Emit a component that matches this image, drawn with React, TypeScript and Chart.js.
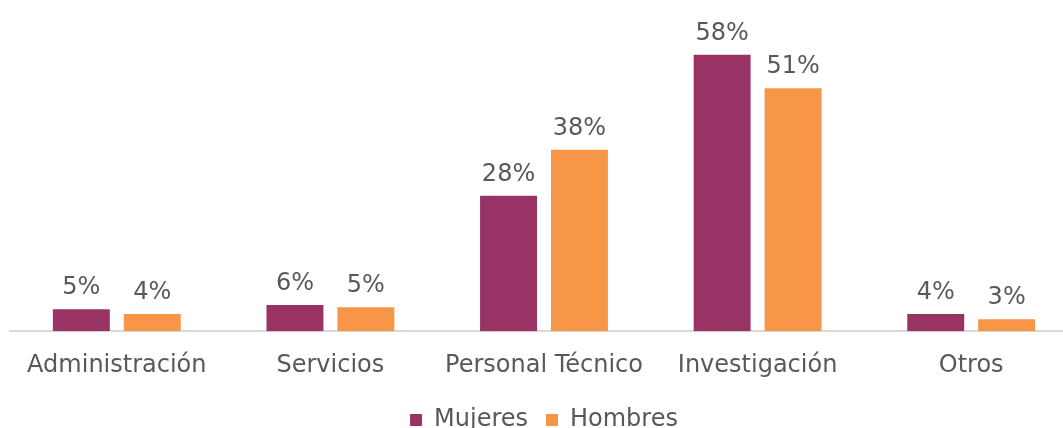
import React, { useEffect, useRef } from "react";
import { Chart, registerables } from "chart.js";

Chart.register(...registerables);

const categories = ["Administración", "Servicios", "Personal Técnico", "Investigación", "Otros"];
const mujeres = [4.6, 5.5, 28.4, 58.0, 3.6];
const hombres = [3.6, 5.0, 38.1, 51.0, 2.5];
const seriesNames = ["Mujeres", "Hombres"];

const PURPLE = "#993366";
const ORANGE = "#F79646";
const TEXT = "#595959";
const FONT = "'DejaVu Sans', Verdana, sans-serif";

const labelPlugin = {
  id: "barLabels",
  afterDatasetsDraw(chart: any) {
    const ctx = chart.ctx;
    ctx.save();
    ctx.fillStyle = TEXT;
    ctx.font = `24px ${FONT}`;
    ctx.textAlign = "center";
    ctx.textBaseline = "alphabetic";
    chart.data.datasets.forEach((ds: any, di: number) => {
      const meta = chart.getDatasetMeta(di);
      meta.data.forEach((bar: any, i: number) => {
        const v = ds.data[i] as number;
        ctx.fillText(`${Math.round(v)}%`, bar.x, bar.y - 15);
      });
    });
    ctx.restore();
  },
};

export default function App() {
  const ref = useRef<HTMLCanvasElement | null>(null);
  useEffect(() => {
    document.documentElement.style.overflow = "hidden";
    document.body.style.overflow = "hidden";
    const chart = new Chart(ref.current as HTMLCanvasElement, {
      type: "bar",
      data: {
        labels: categories,
        datasets: [
          { label: seriesNames[0], data: mujeres, backgroundColor: PURPLE, borderWidth: 0 },
          { label: seriesNames[1], data: hombres, backgroundColor: ORANGE, borderWidth: 0 },
        ],
      },
      options: {
        animation: false,
        responsive: false,
        maintainAspectRatio: false,
        layout: { padding: { left: 10, right: 0, top: 0, bottom: 0 } },
        datasets: {
          bar: { categoryPercentage: 0.664, barPercentage: 0.803 },
        } as any,
        scales: {
          x: {
            grid: { display: false },
            border: { display: true, color: "#D9D9D9", width: 2 },
            ticks: { color: TEXT, font: { family: FONT, size: 24 }, padding: 12, maxRotation: 0 },
            afterFit: (scale: any) => {
              scale.height -= 2;
            },
          },
          y: {
            display: false,
            min: 0,
            max: 69.5,
          },
        },
        plugins: {
          legend: {
            position: "bottom",
            labels: {
              color: TEXT,
              font: { family: FONT, size: 24 },
              boxWidth: 12,
              boxHeight: 12,
              padding: 18,
            },
          },
          tooltip: { enabled: false },
        },
      },
      plugins: [labelPlugin],
    });
    return () => chart.destroy();
  }, []);
  return (
    <div style={{ position: "absolute", left: 0, top: 0, width: 1078, height: 442 }}>
      <canvas ref={ref} width={1078} height={442} style={{ display: "block" }} />
    </div>
  );
}
